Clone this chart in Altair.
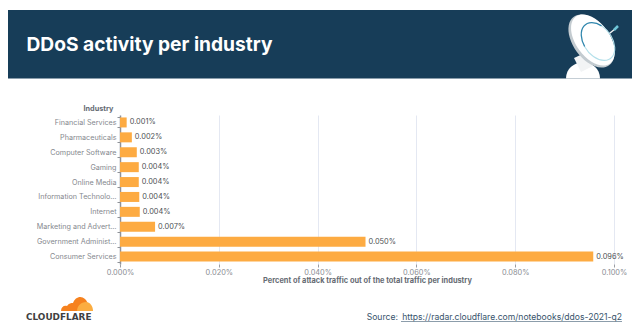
import math

import altair as alt
import pandas as pd

# Share of attack traffic per industry, in percent
industries = [
    "Financial Services", "Pharmaceuticals", "Computer Software", "Gaming",
    "Online Media", "Information Technology and Services", "Internet",
    "Marketing and Advertising", "Government Administration", "Consumer Services",
]
shares = [0.00135, 0.0024, 0.0034, 0.0038, 0.0038, 0.0039, 0.0040, 0.0071, 0.0497, 0.0958]
x_ticks = [0.0, 0.02, 0.04, 0.06, 0.08, 0.1]

# Plot area placement on the 632x324 page
LEFT, TOP, PLOT_W, PLOT_H = 120, 115, 494, 149

df = pd.DataFrame({"industry": industries, "share": shares})
df["label"] = [f"{v:.3f}%" for v in shares]


def px(v):
    return alt.value(v - LEFT)


def py(v):
    return alt.value(v - TOP)


blank = alt.Data(values=[{}])
x_enc = alt.X(
    "share:Q",
    scale=alt.Scale(domain=[0, 0.1], nice=False),
    axis=alt.Axis(
        values=x_ticks, format=".3f", labelExpr="datum.label + '%'",
        title="Percent of attack traffic out of the total traffic per industry",
        titleFontSize=7.4, titleFontWeight="bold", titleColor="#666b73", titleFont="Inter",
        titleY=18.5, titleBaseline="alphabetic",
        labelFont="Inter", labelFontSize=7.4, labelColor="#8a8d93", labelPadding=1,
        domain=False, tickSize=3, tickColor="#9a9da3", gridColor="#e4e8f2", gridWidth=1,
        labelOverlap=False, labelFlush=False,
    ),
)
y_enc = alt.Y(
    "industry:N", sort=industries,
    scale=alt.Scale(paddingInner=0.33, paddingOuter=0.165),
    axis=alt.Axis(
        title="Industry", titleAngle=0, titleAlign="right", titleBaseline="middle",
        titleX=-7, titleY=-7, titleFontSize=7.3, titleFontWeight="bold",
        titleColor="#666b73", titleFont="Inter",
        labelFont="Inter", labelFontSize=7.2, labelColor="#85888e", labelLimit=80, labelPadding=1,
        domainColor="#8f9298", domainWidth=1.5, tickColor="#8f9298", tickSize=3,
        tickBand="extent", grid=False,
    ),
)

bars = alt.Chart(df).mark_bar(color="#fdab42", size=10).encode(x=x_enc, y=y_enc)
bar_labels = alt.Chart(df).mark_text(
    align="left", baseline="middle", dx=3, font="Inter", fontSize=7.4, color="#4d4f54"
).encode(x="share:Q", y=alt.Y("industry:N", sort=industries), text="label:N")

# Header band and its title
banner = alt.Chart(blank).mark_rect(color="#173d58").encode(
    x=px(8), x2=px(632), y=py(10), y2=py(78.5)
)
heading = alt.Chart(blank).mark_text(
    align="left", baseline="alphabetic", font="Inter", fontSize=19.2, fontWeight="bold", color="#ffffff"
).encode(x=px(26.5), y=py(51), text=alt.value("DDoS activity per industry"))


def glyph(path, x, y, **style):
    # size 4 makes one path unit equal one pixel
    return alt.Chart(blank).mark_point(shape=path, size=4, **style).encode(x=px(x), y=py(y))


def on_ellipse(a, b, rot, t):
    # Point at parameter t on an ellipse centred on the origin and turned by rot degrees
    c, s = math.cos(math.radians(rot)), math.sin(math.radians(rot))
    ct, st = math.cos(math.radians(t)), math.sin(math.radians(t))
    return a * ct * c - b * st * s, a * ct * s + b * st * c


def ellipse_path(a, b, rot):
    x0, y0 = on_ellipse(a, b, rot, 180)
    x1, y1 = on_ellipse(a, b, rot, 0)
    arc = f"A{a} {b} {rot} 1 1"
    return f"M{x0:.2f} {y0:.2f} {arc} {x1:.2f} {y1:.2f} {arc} {x0:.2f} {y0:.2f} Z"


def arc_path(a, b, rot, t0, t1):
    # Arc running counterclockwise on screen from t0 down to t1
    x0, y0 = on_ellipse(a, b, rot, t0)
    x1, y1 = on_ellipse(a, b, rot, t1)
    large = 1 if abs(t0 - t1) > 180 else 0
    return f"M{x0:.2f} {y0:.2f} A{a} {b} {rot} {large} 0 {x1:.2f} {y1:.2f}"


# Satellite dish
dish_base = glyph("M-17 0 C-17 -10 -9 -16 0 -16 C9 -16 17 -10 17 0 Z", 583, 78.5,
                  filled=True, fill="#ffffff", opacity=1)
dish_neck = glyph("M-9 -5 L4 -11 L10 3 L-2 9 Z", 583, 63, filled=True, fill="#f2f4f5", opacity=1)
feed_arm = glyph("M-5 4 L5 -4", 610, 33, filled=False, stroke="#f4f6f7", strokeWidth=1.5, opacity=1)
feed_tip = glyph("M-2 2 L2 -2", 616, 28, filled=False, stroke="#6fc7d8", strokeWidth=2.5, opacity=1)
dish_back = glyph(ellipse_path(30, 18, 54), 591.5, 41,
                  filled=True, fill="#c3cbd0", opacity=1)
dish_front = glyph(ellipse_path(29, 17, 54), 593, 40,
                   filled=True, fill="#ffffff", opacity=1)
dish_ring = glyph(arc_path(21, 14, 54, 240, 100), 598, 41.5,
                  filled=False, stroke="#2f86ad", strokeWidth=1.3, opacity=1)
dish_ring_light = glyph(arc_path(21, 14, 54, 100, -120), 598, 41.5,
                        filled=False, stroke="#b4e0ea", strokeWidth=1.1, opacity=1)

# Company mark
cloud_main = glyph(
    "M-17 7 C-17 3 -14 1 -11 2 C-9 -1 -7 -1 -5 -1 C-3 -7 3 -9 7 -5 C9 -3 10 -1 10 2 "
    "L12 7 Z", 78, 304, filled=True, fill="#f6821f", opacity=1)
cloud_light = glyph("M-8 7 C-8 2 -4 -2 1 -2 C5 -2 8 2 8 7 Z", 85, 304,
                    filled=True, fill="#fbad41", opacity=1)
wordmark = alt.Chart(blank).mark_text(
    align="left", baseline="middle", font="DejaVu Sans", fontSize=8.9, fontWeight="bold", color="#404041"
).encode(x=px(26), y=py(316.5), text=alt.value("CLOUDFLARE"))

# Source line, with the address underlined
source_prefix = alt.Chart(blank).mark_text(
    align="left", baseline="middle", font="Inter", fontSize=8.6, color="#37536b"
).encode(x=px(366.7), y=py(317), text=alt.value("Source:"))
source_link = alt.Chart(blank).mark_text(
    align="right", baseline="middle", font="Inter", fontSize=8.6, color="#37536b"
).encode(x=px(622), y=py(317), text=alt.value("https://radar.cloudflare.com/notebooks/ddos-2021-q2"))
source_rule = alt.Chart(blank).mark_rule(color="#6f8496", strokeWidth=0.8).encode(
    x=px(401), x2=px(622), y=py(321.5)
)

chart = alt.layer(
    banner, heading,
    dish_base, dish_neck, feed_arm, feed_tip, dish_back, dish_front, dish_ring, dish_ring_light,
    bars, bar_labels,
    cloud_main, cloud_light, wordmark,
    source_prefix, source_link, source_rule,
).properties(
    width=PLOT_W, height=PLOT_H, autosize="none", background="#ffffff",
    padding={"left": LEFT, "top": TOP, "right": 632 - LEFT - PLOT_W, "bottom": 324 - TOP - PLOT_H},
).configure_view(stroke=None)

chart.save("out.html", embed_options={"renderer": "svg", "actions": False})
